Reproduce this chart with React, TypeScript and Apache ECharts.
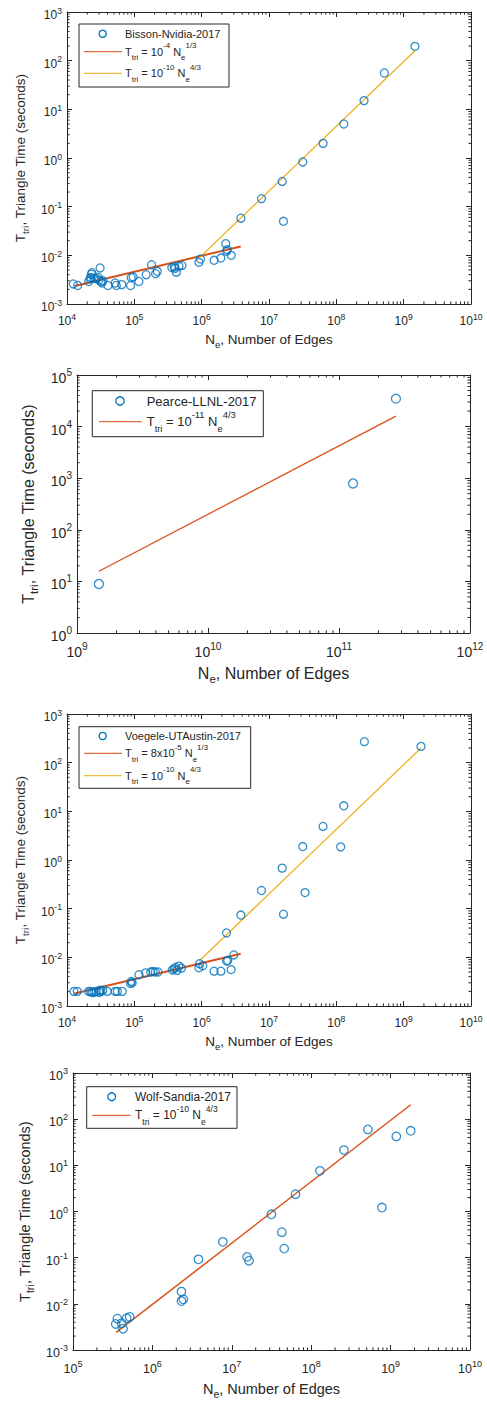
import React, { useEffect, useRef } from "react";
import * as echarts from "echarts";

const FONT = '"Liberation Sans", Arial, Helvetica, sans-serif';
const INK = "#262626";
const BLUE = "#0072BD";
const RED = "#D95319";
const YELLOW = "#EDB120";

// ---------- Panel 1: Bisson-Nvidia-2017 ----------
const bissonPoints: [number, number][] = [
  [1.24e4, 0.00258], [1.44e4, 0.0024], [2.1e4, 0.0029], [2.2e4, 0.0033],
  [2.25e4, 0.0035], [2.3e4, 0.0041], [2.35e4, 0.0044], [2.5e4, 0.0034],
  [2.7e4, 0.0033], [2.9e4, 0.0035], [3.1e4, 0.0055], [3.0e4, 0.0031],
  [3.2e4, 0.0029], [3.3e4, 0.0027], [3.4e4, 0.003], [4.05e4, 0.0024],
  [5.2e4, 0.0027], [5.4e4, 0.0024], [6.5e4, 0.0025], [8.8e4, 0.0024],
  [9.0e4, 0.0035], [9.6e4, 0.0036], [1.17e5, 0.0029], [1.5e5, 0.004],
  [1.8e5, 0.0064], [2.07e5, 0.0042], [2.19e5, 0.0047], [3.6e5, 0.0056],
  [3.9e5, 0.0058], [4.0e5, 0.0054], [4.2e5, 0.0045], [4.6e5, 0.006],
  [5.1e5, 0.0062], [9.1e5, 0.0072], [9.6e5, 0.0084], [1.53e6, 0.0079],
  [1.93e6, 0.0088], [2.28e6, 0.0174], [2.4e6, 0.0131], [2.35e6, 0.0121],
  [2.75e6, 0.01], [3.82e6, 0.058], [7.73e6, 0.146], [1.57e7, 0.33],
  [1.64e7, 0.05], [3.17e7, 0.83], [6.35e7, 2.0], [1.29e8, 5.0],
  [2.58e8, 15.1], [5.17e8, 55.8], [1.47e9, 197],
];
const bissonFitLow: [number, number][] = [[1.3e4, 0.00235], [3.8e6, 0.0152]];
const bissonFitHigh: [number, number][] = [[9.5e5, 0.0092], [1.47e9, 160]];

// ---------- Panel 2: Pearce-LLNL-2017 ----------
const pearcePoints: [number, number][] = [[1.47e9, 8.9], [1.28e11, 790], [2.72e11, 34800]];
const pearceFit: [number, number][] = [[1.47e9, 15.7], [2.72e11, 16000]];

// ---------- Panel 3: Voegele-UTAustin-2017 ----------
const voegelePoints: [number, number][] = [
  [1.27e4, 0.002], [1.42e4, 0.002], [2.1e4, 0.002], [2.25e4, 0.002],
  [2.35e4, 0.0019], [2.5e4, 0.0019], [2.7e4, 0.002], [3.0e4, 0.0019],
  [3.2e4, 0.002], [3.4e4, 0.0021], [3.05e4, 0.0021], [3.97e4, 0.002],
  [5.2e4, 0.002], [5.6e4, 0.002], [6.6e4, 0.002], [8.8e4, 0.0029],
  [9.0e4, 0.0032], [9.3e4, 0.003], [1.17e5, 0.0044], [1.47e5, 0.0048],
  [1.75e5, 0.005], [1.9e5, 0.0051], [2.05e5, 0.005], [2.25e5, 0.005],
  [3.66e5, 0.0055], [3.9e5, 0.0058], [4.1e5, 0.0062], [4.3e5, 0.0054],
  [4.6e5, 0.0066], [5.0e5, 0.006], [9.1e5, 0.0061], [9.3e5, 0.0074],
  [1.04e6, 0.0067], [1.53e6, 0.0052], [1.93e6, 0.0052], [2.34e6, 0.0084],
  [2.44e6, 0.0086], [2.74e6, 0.0056], [3.0e6, 0.0112], [2.34e6, 0.0317],
  [3.82e6, 0.074], [7.73e6, 0.236], [1.57e7, 0.68], [1.64e7, 0.077],
  [3.17e7, 1.89], [3.43e7, 0.214], [6.35e7, 4.9], [1.16e8, 1.86],
  [1.29e8, 13], [2.61e8, 270], [1.81e9, 216],
];
const voegeleFitLow: [number, number][] = [[1.3e4, 0.0018], [3.8e6, 0.0118]];
const voegeleFitHigh: [number, number][] = [[9.2e5, 0.0084], [1.81e9, 200]];

// ---------- Panel 4: Wolf-Sandia-2017 ----------
const wolfPoints: [number, number][] = [
  [3.45e5, 0.00366], [3.62e5, 0.00476], [4.1e5, 0.0038], [4.27e5, 0.00289],
  [4.74e5, 0.0049], [5.17e5, 0.0052], [2.32e6, 0.0184], [2.32e6, 0.0115],
  [2.45e6, 0.0125], [3.8e6, 0.092], [7.7e6, 0.22], [1.56e7, 0.104],
  [1.65e7, 0.086], [3.16e7, 0.87], [4.27e7, 0.356], [4.57e7, 0.157],
  [6.35e7, 2.37], [1.29e8, 7.6], [2.58e8, 21.4], [5.18e8, 60],
  [7.78e8, 1.22], [1.18e9, 42.3], [1.79e9, 56],
];
const wolfFit: [number, number][] = [[3.5e5, 0.0024], [1.79e9, 205]];

// ---------- Text ----------
const yTitle = "{b|T}{sub|tri}{b|, Triangle Time (seconds)}";
const xTitle = "{b|N}{sub|e}{b|, Number of Edges}";

type Line = { key: string; label: string; data: [number, number][]; color: string; width: number; legY: number };
type Panel = {
  grid: { left: number; top: number; width: number; height: number };
  x: [number, number];
  y: [number, number];
  tickFs: number;
  titleFs: number;
  legFs: number;
  xMargin: number;
  xGap: number;
  yGap: number;
  sym: number;
  scatterKey: string;
  scatterLabel: string;
  points: [number, number][];
  lines: Line[];
  box: { x: number; y: number; w: number; h: number; symX: number; symY: number; r: number; lineX1: number; lineX2: number; textX: number };
};

const panels: Panel[] = [
  {
    grid: { left: 67, top: 12, width: 404, height: 292 },
    x: [1e4, 1e10], y: [1e-3, 1e3],
    tickFs: 12, titleFs: 13.5, legFs: 11, xMargin: 8, xGap: 26, yGap: 33, sym: 8,
    scatterKey: "p1s", scatterLabel: "Bisson-Nvidia-2017", points: bissonPoints,
    lines: [
      { key: "p1r", label: "{b|T}{sub|tri}{b| = 10}{sup|-4}{b| N}{sub|e}{sup|1/3}", data: bissonFitLow, color: RED, width: 2, legY: 51.7 },
      { key: "p1y", label: "{b|T}{sub|tri}{b| = 10}{sup|-10}{b| N}{sub|e}{sup|4/3}", data: bissonFitHigh, color: YELLOW, width: 1.3, legY: 73.3 },
    ],
    box: { x: 79, y: 24, w: 150, h: 63, symX: 102.7, symY: 33.7, r: 3.6, lineX1: 84, lineX2: 122, textX: 125 },
  },
  {
    grid: { left: 77, top: 375, width: 393, height: 258 },
    x: [1e9, 1e12], y: [1, 1e5],
    tickFs: 14, titleFs: 16, legFs: 13, xMargin: 8.5, xGap: 29, yGap: 34, sym: 9,
    scatterKey: "p2s", scatterLabel: "Pearce-LLNL-2017", points: pearcePoints,
    lines: [
      { key: "p2r", label: "{b|T}{sub|tri}{b| = 10}{sup|-11}{b| N}{sub|e}{sup|4/3}", data: pearceFit, color: RED, width: 1.3, legY: 421.7 },
    ],
    box: { x: 92.3, y: 390.7, w: 171, h: 46, symX: 120, symY: 401, r: 4.2, lineX1: 99, lineX2: 141.7, textX: 146.7 },
  },
  {
    grid: { left: 67, top: 714, width: 404, height: 292 },
    x: [1e4, 1e10], y: [1e-3, 1e3],
    tickFs: 12, titleFs: 13.5, legFs: 11, xMargin: 8, xGap: 26, yGap: 33, sym: 8,
    scatterKey: "p3s", scatterLabel: "Voegele-UTAustin-2017", points: voegelePoints,
    lines: [
      { key: "p3r", label: "{b|T}{sub|tri}{b| = 8x10}{sup|-5}{b| N}{sub|e}{sup|1/3}", data: voegeleFitLow, color: RED, width: 2, legY: 753.3 },
      { key: "p3y", label: "{b|T}{sub|tri}{b| = 10}{sup|-10}{b| N}{sub|e}{sup|4/3}", data: voegeleFitHigh, color: YELLOW, width: 1.3, legY: 775.7 },
    ],
    box: { x: 79, y: 726.7, w: 171.7, h: 61.6, symX: 102.7, symY: 736, r: 3.6, lineX1: 84, lineX2: 122, textX: 125 },
  },
  {
    grid: { left: 73, top: 1073, width: 397, height: 277 },
    x: [1e5, 1e10], y: [1e-3, 1e3],
    tickFs: 12.5, titleFs: 14.5, legFs: 12, xMargin: 9, xGap: 28, yGap: 34, sym: 8.5,
    scatterKey: "p4s", scatterLabel: "Wolf-Sandia-2017", points: wolfPoints,
    lines: [
      { key: "p4r", label: "{b|T}{sub|tri}{b| = 10}{sup|-10}{b| N}{sub|e}{sup|4/3}", data: wolfFit, color: RED, width: 1.5, legY: 1115.3 },
    ],
    box: { x: 86.7, y: 1086.7, w: 150.3, h: 41.6, symX: 111.7, symY: 1096.7, r: 3.9, lineX1: 92.3, lineX2: 130.7, textX: 135 },
  },
];

const tickRich = (fs: number) => ({
  b: { fontSize: fs, lineHeight: Math.round(fs * 1.5), fontFamily: FONT, color: INK },
  s: { fontSize: fs * 0.72, lineHeight: fs * 0.9, verticalAlign: "top", fontFamily: FONT, color: INK },
});
const nameRich = (fs: number) => ({
  b: { fontSize: fs, lineHeight: fs * 1.45, fontFamily: FONT, color: INK },
  sub: { fontSize: fs * 0.72, lineHeight: fs * 0.5, verticalAlign: "bottom", fontFamily: FONT, color: INK },
});
const legRich = (fs: number) => ({
  p: { fontSize: fs, lineHeight: Math.round(fs * 1.27), fontFamily: FONT, fill: INK, color: INK },
  b: { fontSize: fs, lineHeight: Math.round(fs * 1.8), fontFamily: FONT, fill: INK, color: INK },
  sub: { fontSize: fs * 0.72, lineHeight: fs * 0.8, verticalAlign: "bottom", fontFamily: FONT, fill: INK, color: INK },
  sup: { fontSize: fs * 0.72, lineHeight: fs * 1.1, verticalAlign: "top", fontFamily: FONT, fill: INK, color: INK },
});

const expLabel = (v: number) => `{b|10}{s|${Math.round(Math.log10(v))}}`;

function minorTicks(lo: number, hi: number): number[] {
  const out: number[] = [];
  for (let k = Math.round(Math.log10(lo)); k < Math.round(Math.log10(hi)); k++) {
    for (let m = 2; m <= 9; m++) out.push(m * Math.pow(10, k));
  }
  return out;
}

function legendGraphic(p: Panel) {
  const b = p.box;
  const textStyle = (text: string, y: number) => ({
    type: "text",
    x: b.textX,
    y,
    z: 102,
    silent: true,
    style: {
      text,
      rich: legRich(p.legFs),
      fill: INK,
      font: `${p.legFs}px ${FONT}`,
      align: "left",
      verticalAlign: "middle",
      textAlign: "left",
      textVerticalAlign: "middle",
    },
  });
  const els: any[] = [
    {
      type: "rect",
      z: 100,
      silent: true,
      shape: { x: b.x, y: b.y, width: b.w, height: b.h },
      style: { fill: "#ffffff", stroke: INK, lineWidth: 1 },
    },
    {
      type: "circle",
      z: 101,
      silent: true,
      shape: { cx: b.symX, cy: b.symY, r: b.r },
      style: { fill: "none", stroke: BLUE, lineWidth: 1.3 },
    },
    textStyle(`{p|${p.scatterLabel}}`, b.symY),
  ];
  p.lines.forEach((ln) => {
    els.push({
      type: "line",
      z: 101,
      silent: true,
      shape: { x1: b.lineX1, y1: ln.legY, x2: b.lineX2, y2: ln.legY },
      style: { stroke: ln.color, lineWidth: 1.3, opacity: 0.85 },
    });
    els.push(textStyle(ln.label, ln.legY));
  });
  return els;
}

function buildOption() {
  const grid: any[] = [];
  const xAxis: any[] = [];
  const yAxis: any[] = [];
  const series: any[] = [];
  const graphic: any[] = [];

  panels.forEach((p, gi) => {
    grid.push({ ...p.grid, containLabel: false, outerBoundsMode: "none" });
    const axisCommon = {
      type: "log",
      logBase: 10,
      gridIndex: gi,
      axisLine: { show: true, onZero: false, lineStyle: { color: INK, width: 1 } },
      axisTick: { show: true, inside: true, length: 5, lineStyle: { color: INK, width: 1 } },
      splitLine: { show: false },
      minorTick: { show: false },
      minorSplitLine: { show: false },
      axisPointer: { show: false },
    };
    xAxis.push({
      ...axisCommon,
      min: p.x[0], max: p.x[1], position: "bottom",
      axisLabel: {
        show: true, margin: p.xMargin, formatter: expLabel, rich: tickRich(p.tickFs),
        showMinLabel: true, showMaxLabel: true,
      },
      name: xTitle, nameLocation: "middle", nameGap: p.xGap,
      nameTextStyle: { fontFamily: FONT, fontSize: p.titleFs, color: INK, rich: nameRich(p.titleFs) },
    });
    xAxis.push({ ...axisCommon, min: p.x[0], max: p.x[1], position: "top", axisLabel: { show: false } });
    yAxis.push({
      ...axisCommon,
      min: p.y[0], max: p.y[1], position: "left",
      axisLabel: {
        show: true, margin: 5, formatter: expLabel, rich: tickRich(p.tickFs),
        padding: [6, 0, 0, 0], showMinLabel: true, showMaxLabel: true,
      },
      name: yTitle, nameLocation: "middle", nameGap: p.yGap, nameRotate: 90,
      nameTextStyle: { fontFamily: FONT, fontSize: p.titleFs, color: INK, rich: nameRich(p.titleFs) },
    });
    yAxis.push({ ...axisCommon, min: p.y[0], max: p.y[1], position: "right", axisLabel: { show: false } });

    const xi = gi * 2;
    // minor ticks (2..9 per decade) on all four sides, placed through the axes' own scales
    const tickData: number[][] = [];
    minorTicks(p.x[0], p.x[1]).forEach((v) => tickData.push([v, p.y[0], 0]));
    minorTicks(p.y[0], p.y[1]).forEach((v) => tickData.push([p.x[0], v, 1]));
    series.push({
      type: "custom",
      name: "minor" + gi,
      xAxisIndex: xi,
      yAxisIndex: xi,
      silent: true,
      z: 1,
      data: tickData,
      encode: { x: 0, y: 1 },
      renderItem: (_params: any, api: any) => {
        const a = api.value(0);
        const b = api.value(1);
        const k = api.value(2);
        const L = 2.6;
        const st = { stroke: INK, lineWidth: 1 };
        if (k === 0) {
          const p1 = api.coord([a, p.y[0]]);
          const p2 = api.coord([a, p.y[1]]);
          return {
            type: "group",
            children: [
              { type: "line", shape: { x1: p1[0], y1: p1[1], x2: p1[0], y2: p1[1] - L }, style: st },
              { type: "line", shape: { x1: p2[0], y1: p2[1], x2: p2[0], y2: p2[1] + L }, style: st },
            ],
          };
        }
        const q1 = api.coord([p.x[0], b]);
        const q2 = api.coord([p.x[1], b]);
        return {
          type: "group",
          children: [
            { type: "line", shape: { x1: q1[0], y1: q1[1], x2: q1[0] + L, y2: q1[1] }, style: st },
            { type: "line", shape: { x1: q2[0], y1: q2[1], x2: q2[0] - L, y2: q2[1] }, style: st },
          ],
        };
      },
    });

    p.lines.forEach((ln) => {
      series.push({
        type: "line",
        name: ln.key,
        xAxisIndex: xi,
        yAxisIndex: xi,
        data: ln.data,
        symbol: "none",
        color: ln.color,
        lineStyle: { color: ln.color, width: ln.width },
        z: 2,
      });
    });

    series.push({
      type: "scatter",
      name: p.scatterKey,
      xAxisIndex: xi,
      yAxisIndex: xi,
      data: p.points,
      symbol: "circle",
      symbolSize: p.sym,
      color: BLUE,
      itemStyle: { color: "rgba(0,0,0,0)", borderColor: BLUE, borderWidth: 1.3 },
      z: 3,
    });

    graphic.push(...legendGraphic(p));
  });

  return {
    animation: false,
    backgroundColor: "#ffffff",
    textStyle: { fontFamily: FONT },
    grid,
    xAxis,
    yAxis,
    series,
    graphic: { elements: graphic },
  };
}

export default function App() {
  const ref = useRef<HTMLDivElement>(null);
  useEffect(() => {
    if (!ref.current) return;
    const chart = echarts.init(ref.current, undefined, { renderer: "svg" });
    chart.setOption(buildOption() as any);
    return () => chart.dispose();
  }, []);
  return (
    <div
      ref={ref}
      style={{ position: "absolute", left: 0, top: 0, width: 487, height: 1401, background: "#fff" }}
    />
  );
}
